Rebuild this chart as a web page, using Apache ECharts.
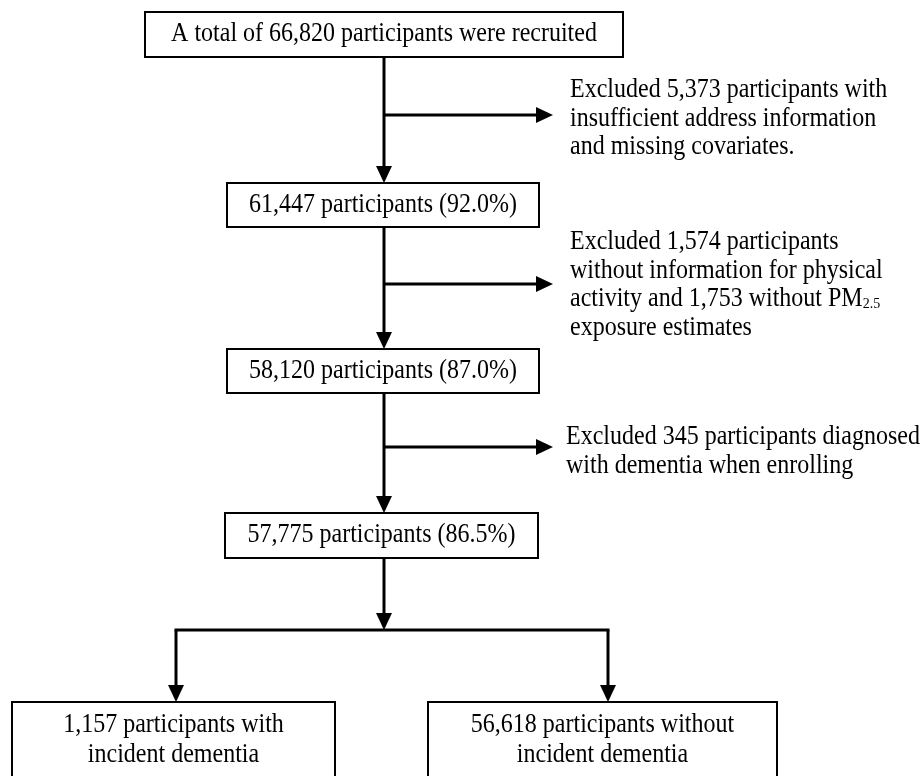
<!DOCTYPE html>
<html>
<head>
<meta charset="utf-8">
<script src="https://cdn.jsdelivr.net/npm/echarts@6/dist/echarts.min.js"></script>
<style>
html,body{margin:0;padding:0;background:#fff;}
#chart{width:921px;height:776px;}
</style>
</head>
<body>
<div id="chart"></div>
<script>
// ---- content ----
const boxTexts = [
  "A total of 66,820 participants were recruited",
  "61,447 participants (92.0%)",
  "58,120 participants (87.0%)",
  "57,775 participants (86.5%)",
  "1,157 participants with\nincident dementia",
  "56,618 participants without\nincident dementia"
];
const exclusionTexts = [
  "Excluded 5,373 participants with\ninsufficient address information\nand missing covariates.",
  "Excluded 1,574 participants\nwithout information for physical\nactivity and 1,753 without PM{sub|2.5}\nexposure estimates",
  "Excluded 345 participants diagnosed\nwith dementia when enrolling"
];

// ---- layout (pixel-like data coordinates) ----
const boxLeft   = [145, 227, 227, 225, 12, 428];
const boxRight  = [623, 539, 539, 538, 335, 777];
const boxTop    = [12, 183, 349, 513, 702, 702];
const boxBottom = [57, 227, 393, 558, 820, 820];
const boxTextY  = [34, 205, 371, 535, 740, 740];

const exclX = [570, 570, 566];
const exclFirstLineY = [90, 242, 437];

// connectors: x1, y1, x2, y2, arrowhead(1/0)
const connectorStartX = [384, 384, 384, 384, 384, 384, 384, 176, 176, 608];
const connectorStartY = [57, 115, 227, 284, 393, 447, 558, 630, 630, 630];
const connectorEndX   = [384, 553, 384, 553, 384, 553, 384, 608, 176, 608];
const connectorEndY   = [183, 115, 349, 284, 513, 447, 630, 630, 702, 702];
const connectorArrow  = [1, 1, 1, 1, 1, 1, 1, 0, 1, 1];

const FONT = '"Liberation Serif", "Times New Roman", serif';
const FS = 24;
const SY = 1.1;          // slight vertical stretch, as in the reference glyphs
const LH = 26;           // line height before stretch (≈28.6 px after)
const BOX_LH = 27;

const boxData = boxTexts.map((t, i) => [boxLeft[i], boxTop[i], boxRight[i], boxBottom[i], boxTextY[i], i]);
const exclData = exclusionTexts.map((t, i) => [exclX[i], exclFirstLineY[i], i]);
const connData = connectorStartX.map((x, i) => [x, connectorStartY[i], connectorEndX[i], connectorEndY[i], connectorArrow[i]]);

const chart = echarts.init(document.getElementById('chart'), null, {renderer: 'canvas'});

function renderBox(params, api) {
  const p0 = api.coord([api.value(0), api.value(1)]);
  const p1 = api.coord([api.value(2), api.value(3)]);
  const ty = api.coord([0, api.value(4)])[1];
  const idx = api.value(5);
  return {
    type: 'group',
    children: [
      {
        type: 'rect',
        shape: {x: p0[0], y: p0[1], width: p1[0] - p0[0], height: p1[1] - p0[1]},
        style: {fill: '#fff', stroke: '#000', lineWidth: 2}
      },
      {
        type: 'text',
        x: (p0[0] + p1[0]) / 2,
        y: ty,
        scaleY: SY,
        style: {
          text: boxTexts[idx],
          x: 0,
          y: 0,
          fill: '#000',
          fontSize: FS,
          fontFamily: FONT,
          lineHeight: BOX_LH,
          align: 'center',
          verticalAlign: 'middle'
        }
      }
    ]
  };
}

function renderExcl(params, api) {
  const p = api.coord([api.value(0), api.value(1)]);
  const idx = api.value(2);
  return {
    type: 'text',
    x: p[0],
    y: p[1] - LH * SY / 2,
    scaleY: SY,
    style: {
      text: exclusionTexts[idx],
      x: 0,
      y: 0,
      fill: '#000',
      fontSize: FS,
      fontFamily: FONT,
      lineHeight: LH,
      align: 'left',
      verticalAlign: 'top',
      rich: {
        sub: {fontSize: 14, fontFamily: FONT, fill: '#000', verticalAlign: 'bottom', lineHeight: LH, padding: [0, 0, 2, 0]}
      }
    }
  };
}

function renderConn(params, api) {
  const a = api.coord([api.value(0), api.value(1)]);
  const b = api.coord([api.value(2), api.value(3)]);
  const arrow = api.value(4);
  const dx = b[0] - a[0], dy = b[1] - a[1];
  const len = Math.hypot(dx, dy) || 1;
  const ux = dx / len, uy = dy / len;
  const L = 17, W = 8;
  const end = arrow ? [b[0] - ux * L, b[1] - uy * L] : b;
  const children = [{
    type: 'line',
    shape: {x1: a[0], y1: a[1], x2: end[0], y2: end[1]},
    style: {stroke: '#000', lineWidth: 3, lineCap: arrow ? 'butt' : 'square'}
  }];
  if (arrow) {
    children.push({
      type: 'polygon',
      shape: {points: [b, [end[0] - uy * W, end[1] + ux * W], [end[0] + uy * W, end[1] - ux * W]]},
      style: {fill: '#000'}
    });
  }
  return {type: 'group', children};
}

chart.setOption({
  backgroundColor: '#fff',
  animation: false,
  grid: {left: 0, right: 0, top: 0, bottom: 0},
  xAxis: {type: 'value', min: 0, max: 921, show: false},
  yAxis: {type: 'value', min: 0, max: 776, inverse: true, show: false},
  series: [
    {type: 'custom', name: 'connectors', coordinateSystem: 'cartesian2d', clip: false, renderItem: renderConn, data: connData, z: 1},
    {type: 'custom', name: 'boxes', coordinateSystem: 'cartesian2d', clip: false, renderItem: renderBox, data: boxData, z: 2},
    {type: 'custom', name: 'exclusions', coordinateSystem: 'cartesian2d', clip: false, renderItem: renderExcl, data: exclData, z: 3}
  ]
});
</script>
</body>
</html>
